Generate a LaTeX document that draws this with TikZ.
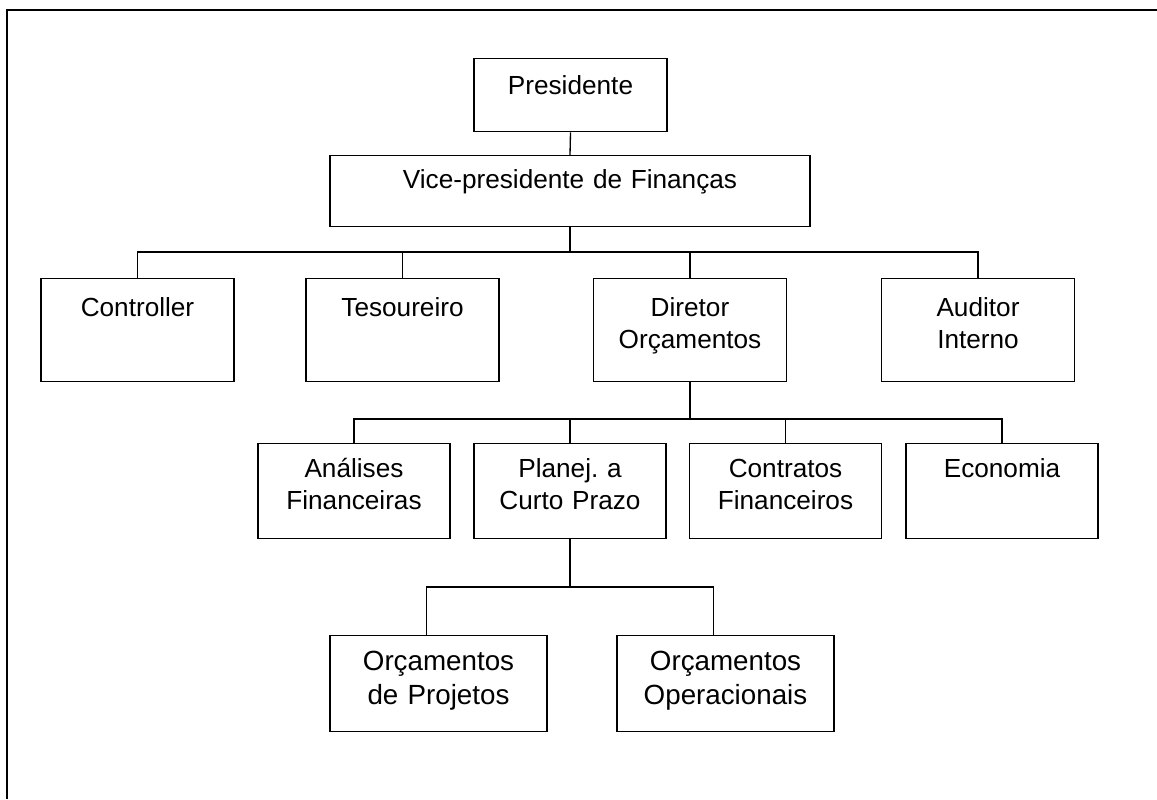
\documentclass[tikz,border=0pt]{standalone}
\usepackage{fontspec}
\setmainfont{Liberation Sans}
\frenchspacing
\tikzset{
  unit/.style={draw, line width=0.75pt, anchor=north, align=center, inner xsep=0pt, inner ysep=0pt,
    font=\fontsize{14.9}{18}\selectfont},
  level0/.style={unit, text width=3.86cm, text height=0.72cm, text depth=0.74cm},
  levelvp/.style={unit, text width=9.6cm, text height=0.66cm, text depth=0.76cm},
  level1/.style={unit, text width=3.86cm, text height=0.76cm, text depth=1.30cm},
  level2/.style={unit, text width=3.84cm, text height=0.68cm, text depth=1.22cm},
  level3/.style={unit, text width=4.34cm, text height=0.70cm, text depth=1.22cm,
    font=\fontsize{15.8}{19}\selectfont},
  wire/.style={line width=0.75pt}
}
\begin{document}
\begin{tikzpicture}[x=0.02cm, y=-0.02cm]
      \useasboundingbox (0,0) rectangle (1157,799);%
      \draw[line width=1.2pt] (7,799) -- (7,10) -- (1157,10);%

      \node[level0] (pres) at (570.5,58) {Presidente};%
      \node[levelvp] (vp) at (570,155) {Vice-presidente de Finanças};%

      \node[level1] (ctl) at (137.5,278) {Controller};%
      \node[level1] (tes) at (402.5,278) {Tesoureiro};%
      \node[level1] (dir) at (690,278) {Diretor\\Orçamentos};%
      \node[level1] (aud) at (978,278) {Auditor\\Interno};%

      \node[level2] (ana) at (354,443) {Análises\\Financeiras};%
      \node[level2] (pla) at (570,443) {Planej. a\\Curto Prazo};%
      \node[level2] (con) at (785.5,443) {Contratos\\Financeiros};%
      \node[level2] (eco) at (1002,443) {Economia};%

      \node[level3] (proj) at (438.5,635) {Orçamentos\\de Projetos};%
      \node[level3] (oper) at (725.5,635) {Orçamentos\\Operacionais};%

      \coordinate (bus1) at (570,252);%
      \coordinate (bus2) at (690,419);%
      \coordinate (bus3) at (570,587);%

      \draw[wire] (pres.south) -- (vp.north);%
      \draw[wire] (vp.south) -- (bus1);%
      \draw[wire] (bus1) -| (ctl.north);%
      \draw[wire] (bus1) -| (tes.north);%
      \draw[wire] (bus1) -| (dir.north);%
      \draw[wire] (bus1) -| (aud.north);%

      \draw[wire] (dir.south) -- (bus2);%
      \draw[wire] (bus2) -| (ana.north);%
      \draw[wire] (bus2) -| (pla.north);%
      \draw[wire] (bus2) -| (con.north);%
      \draw[wire] (bus2) -| (eco.north);%

      \draw[wire] (pla.south) -- (bus3);%
      \draw[wire] (bus3) -| ([xshift=-0.24cm]proj.north);%
      \draw[wire] (bus3) -| ([xshift=-0.24cm]oper.north);%
    \end{tikzpicture}
\end{document}
